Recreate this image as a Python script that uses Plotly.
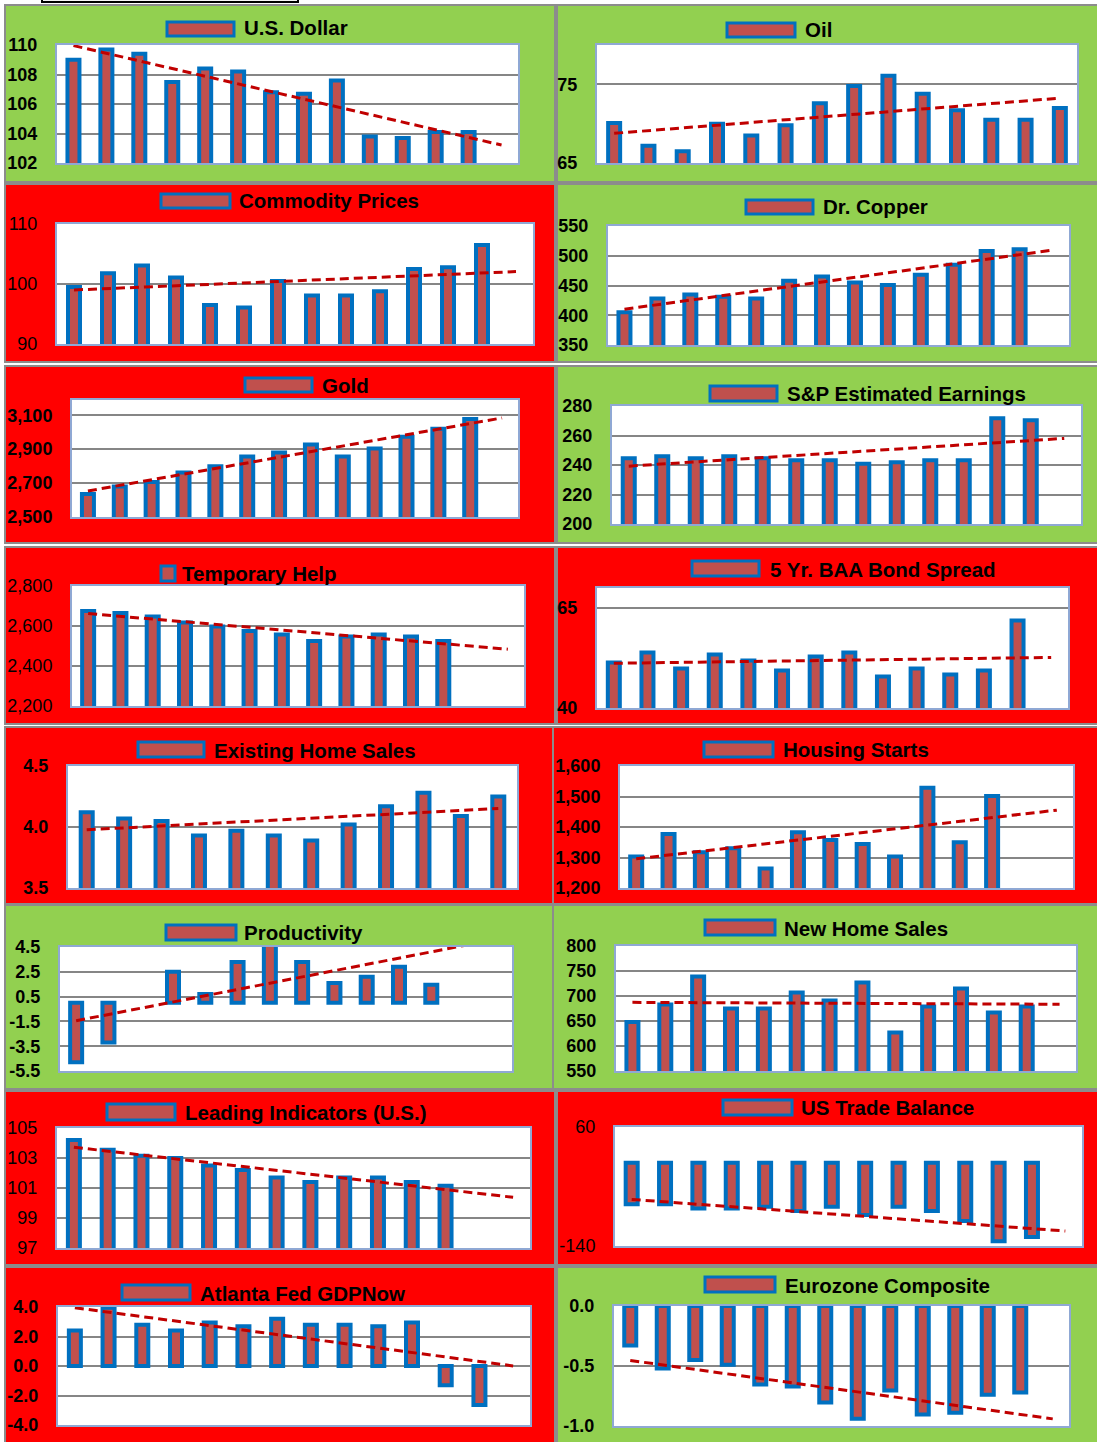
import numpy as np
import plotly.graph_objects as go

W, H = 1097, 1442

# ---------------------------------------------------------------- data ----
usd_vals = [109.0, 109.7, 109.4, 107.5, 108.4, 108.2, 106.8, 106.7, 107.6, 103.8, 103.7, 104.1, 104.1]
oil_vals = [70.1, 67.2, 66.5, 70.0, 68.5, 69.8, 72.6, 74.8, 76.1, 73.8, 71.7, 70.5, 70.5, 72.0]
commodity_vals = [99.5, 101.8, 103.1, 101.1, 96.5, 96.1, 100.5, 98.1, 98.1, 98.8, 102.5, 102.8, 106.5]
copper_vals = [405, 428, 435, 431, 428, 458, 465, 455, 451, 468, 485, 508, 511]
gold_vals = [2636, 2680, 2706, 2762, 2799, 2857, 2880, 2927, 2857, 2904, 2974, 3020, 3078]
sp_earnings_vals = [244.5, 245.9, 244.5, 245.9, 244.5, 243.2, 243.2, 240.9, 241.8, 243.2, 243.2, 271.7, 270.4]
temp_help_vals = [2675, 2665, 2648, 2618, 2598, 2575, 2558, 2525, 2548, 2558, 2548, 2525]
baa_spread_vals = [51.4, 53.9, 49.9, 53.4, 51.9, 49.4, 52.9, 53.9, 47.9, 49.9, 48.4, 49.4, 61.9]
existing_home_vals = [4.12, 4.07, 4.05, 3.93, 3.97, 3.93, 3.89, 4.02, 4.17, 4.28, 4.09, 4.25]
housing_starts_vals = [1303, 1377, 1317, 1330, 1264, 1383, 1357, 1344, 1303, 1529, 1350, 1502]
productivity_vals = [-4.8, -3.2, 0.0, 2.5, 0.7, 3.3, 6.1, 3.3, 1.6, 2.1, 2.9, 1.45]
new_home_vals = [648, 683, 739, 675, 675, 707, 691, 727, 627, 679, 715, 667, 679]
leading_vals = [104.2, 103.55, 103.15, 103.0, 102.5, 102.2, 101.7, 101.4, 101.7, 101.7, 101.4, 101.15]
trade_balance_vals = [-70, -70, -77, -77, -74, -81, -74, -88, -74, -81, -98, -132, -125]
gdpnow_vals = [2.4, 3.95, 2.8, 2.4, 2.95, 2.7, 3.2, 2.8, 2.8, 2.7, 2.95, -1.3, -2.65]
eurozone_vals = [-0.33, -0.52, -0.45, -0.49, -0.655, -0.67, -0.805, -0.94, -0.705, -0.905, -0.89, -0.74, -0.72]

# y-axis ticks and labels
usd_ticks, usd_labels = [102, 104, 106, 108, 110], ["102", "104", "106", "108", "110"]
oil_ticks, oil_labels = [65, 75], ["65", "75"]
commodity_ticks, commodity_labels = [90, 100, 110], ["90", "100", "110"]
copper_ticks, copper_labels = [350, 400, 450, 500, 550], ["350", "400", "450", "500", "550"]
gold_ticks, gold_labels = [2500, 2700, 2900, 3100], ["2,500", "2,700", "2,900", "3,100"]
sp_ticks, sp_labels = [200, 220, 240, 260, 280], ["200", "220", "240", "260", "280"]
temp_ticks, temp_labels = [2200, 2400, 2600, 2800], ["2,200", "2,400", "2,600", "2,800"]
baa_ticks, baa_labels = [40, 65], ["40", "65"]
existing_ticks, existing_labels = [3.5, 4.0, 4.5], ["3.5", "4.0", "4.5"]
housing_ticks, housing_labels = [1200, 1300, 1400, 1500, 1600], ["1,200", "1,300", "1,400", "1,500", "1,600"]
prod_ticks, prod_labels = [-5.5, -3.5, -1.5, 0.5, 2.5, 4.5], ["-5.5", "-3.5", "-1.5", "0.5", "2.5", "4.5"]
newhome_ticks, newhome_labels = [550, 600, 650, 700, 750, 800], ["550", "600", "650", "700", "750", "800"]
leading_ticks, leading_labels = [97, 99, 101, 103, 105], ["97", "99", "101", "103", "105"]
trade_ticks, trade_labels = [-140, 60], ["-140", "60"]
gdp_ticks, gdp_labels = [-4, -2, 0, 2, 4], ["-4.0", "-2.0", "0.0", "2.0", "4.0"]
euro_ticks, euro_labels = [-1.0, -0.5, 0.0], ["-1.0", "-0.5", "0.0"]

# ------------------------------------------------------------- styling ----
GREEN = "#92D050"
RED = "#FF0000"
BAR_FILL = "#C0504D"
BAR_EDGE = "#0070C0"
TREND = "#C00000"
GRID = "#868686"
FRAME = "#8FA8D4"
PANEL_EDGE = "#8C8C8C"
FONT = "Liberation Sans"

# panel layout in pixels: background box, plot box, legend swatch, title text x / y,
# number of category slots, y range, bold tick labels
panels = [
    dict(title="U.S. Dollar", vals=usd_vals, ticks=usd_ticks, labels=usd_labels, bg=GREEN,
         box=(5, 5, 555, 182), plot=(57, 45, 518, 163), sw=(167, 22, 234, 36), tx=242, ty=28,
         n=14, yr=(102, 110), bold=True),
    dict(title="Oil", vals=oil_vals, ticks=oil_ticks, labels=oil_labels, bg=GREEN,
         box=(557, 5, 1099, 182), plot=(597, 45, 1077, 163), sw=(727, 23, 795, 37), tx=803, ty=30,
         n=14, yr=(65, 80), bold=True),
    dict(title="Commodity Prices", vals=commodity_vals, ticks=commodity_ticks, labels=commodity_labels, bg=RED,
         box=(5, 184, 555, 362), plot=(57, 224, 533, 344), sw=(161, 194, 230, 208), tx=237, ty=201,
         n=14, yr=(90, 110), bold=False),
    dict(title="Dr. Copper", vals=copper_vals, ticks=copper_ticks, labels=copper_labels, bg=GREEN,
         box=(557, 184, 1099, 362), plot=(608, 226, 1069, 345), sw=(746, 200, 813, 214), tx=821, ty=207,
         n=14, yr=(350, 550), bold=True),
    dict(title="Gold", vals=gold_vals, ticks=gold_ticks, labels=gold_labels, bg=RED,
         box=(5, 366, 555, 543), plot=(72, 400, 518, 517), sw=(245, 378, 312, 392), tx=320, ty=385,
         n=14, yr=(2500, 3190), bold=True),
    dict(title="S&P Estimated Earnings", vals=sp_earnings_vals, ticks=sp_ticks, labels=sp_labels, bg=GREEN,
         box=(557, 366, 1099, 543), plot=(612, 406, 1081, 524), sw=(710, 386, 777, 401), tx=785, ty=393,
         n=14, yr=(200, 280), bold=True),
    dict(title="Temporary Help", vals=temp_help_vals, ticks=temp_ticks, labels=temp_labels, bg=RED,
         box=(5, 547, 555, 724), plot=(72, 586, 524, 706), sw=(161, 566, 175, 581), tx=180, ty=573,
         n=14, yr=(2200, 2800), bold=False),
    dict(title="5 Yr. BAA Bond Spread", vals=baa_spread_vals, ticks=baa_ticks, labels=baa_labels, bg=RED,
         box=(557, 547, 1099, 724), plot=(597, 588, 1068, 708), sw=(692, 561, 759, 576), tx=768, ty=569,
         n=14, yr=(40, 70), bold=True),
    dict(title="Existing Home Sales", vals=existing_home_vals, ticks=existing_ticks, labels=existing_labels, bg=RED,
         box=(5, 727, 553, 904), plot=(68, 766, 517, 888), sw=(138, 742, 204, 757), tx=212, ty=750,
         n=12, yr=(3.5, 4.5), bold=True),
    dict(title="Housing Starts", vals=housing_starts_vals, ticks=housing_ticks, labels=housing_labels, bg=RED,
         box=(553, 727, 1099, 904), plot=(620, 766, 1073, 888), sw=(704, 742, 773, 757), tx=781, ty=749,
         n=14, yr=(1200, 1600), bold=True),
    dict(title="Productivity", vals=productivity_vals, ticks=prod_ticks, labels=prod_labels, bg=GREEN,
         box=(5, 905, 553, 1089), plot=(60, 947, 512, 1071), sw=(166, 925, 236, 940), tx=242, ty=932,
         n=14, yr=(-5.5, 4.5), bold=True),
    dict(title="New Home Sales", vals=new_home_vals, ticks=newhome_ticks, labels=newhome_labels, bg=GREEN,
         box=(553, 905, 1099, 1089), plot=(616, 946, 1076, 1071), sw=(705, 920, 775, 935), tx=782, ty=928,
         n=14, yr=(550, 800), bold=True),
    dict(title="Leading Indicators (U.S.)", vals=leading_vals, ticks=leading_ticks, labels=leading_labels, bg=RED,
         box=(5, 1091, 555, 1265), plot=(57, 1128, 530, 1248), sw=(107, 1104, 175, 1120), tx=183, ty=1112,
         n=14, yr=(97, 105), bold=False),
    dict(title="US Trade Balance", vals=trade_balance_vals, ticks=trade_ticks, labels=trade_labels, bg=RED,
         box=(557, 1091, 1099, 1265), plot=(615, 1127, 1082, 1246), sw=(723, 1100, 792, 1115), tx=799, ty=1107,
         n=14, yr=(-140, 60), bold=False),
    dict(title="Atlanta Fed GDPNow", vals=gdpnow_vals, ticks=gdp_ticks, labels=gdp_labels, bg=RED,
         box=(5, 1267, 555, 1446), plot=(58, 1307, 530, 1425), sw=(122, 1285, 190, 1300), tx=198, ty=1293,
         n=14, yr=(-4, 4), bold=True),
    dict(title="Eurozone Composite", vals=eurozone_vals, ticks=euro_ticks, labels=euro_labels, bg=GREEN,
         box=(557, 1267, 1099, 1446), plot=(614, 1306, 1069, 1426), sw=(705, 1277, 775, 1292), tx=783, ty=1285,
         n=14, yr=(-1.0, 0.0), bold=True),
]


def fx(px):
    return px / W


def fy(py):
    return 1 - py / H


fig = go.Figure()
shapes = []
annotations = []
axes = {}

# dark strip along the top edge
shapes.append(dict(type="rect", xref="paper", yref="paper", layer="below",
                   x0=fx(42), x1=fx(298), y0=fy(2), y1=fy(-20),
                   fillcolor="#F4F4F4", line=dict(color="#000000", width=2)))

for i, p in enumerate(panels, start=1):
    sfx = "" if i == 1 else str(i)
    xref, yref = "x" + sfx, "y" + sfx
    bx0, by0, bx1, by1 = p["box"]
    px0, py0, px1, py1 = p["plot"]

    # panel background and white plot area
    shapes.append(dict(type="rect", xref="paper", yref="paper", layer="below",
                       x0=fx(bx0), x1=fx(bx1), y0=fy(by1), y1=fy(by0),
                       fillcolor=p["bg"], line=dict(color=PANEL_EDGE, width=2)))
    shapes.append(dict(type="rect", xref="paper", yref="paper", layer="below",
                       x0=fx(px0), x1=fx(px1), y0=fy(py1), y1=fy(py0),
                       fillcolor="#FFFFFF", line=dict(width=0)))

    # legend swatch and series name
    sx0, sy0, sx1, sy1 = p["sw"]
    shapes.append(dict(type="rect", xref="paper", yref="paper", layer="above",
                       x0=fx(sx0), x1=fx(sx1), y0=fy(sy1), y1=fy(sy0),
                       fillcolor=BAR_FILL, line=dict(color=BAR_EDGE, width=3)))
    annotations.append(dict(xref="paper", yref="paper", x=fx(p["tx"]), y=fy(p["ty"]),
                            xanchor="left", yanchor="middle", showarrow=False,
                            text=p["title"],
                            font=dict(family=FONT, size=20.5, color="#000000", weight="bold")))

    vals = np.array(p["vals"], dtype=float)
    xs = np.arange(1, len(vals) + 1)
    n = p["n"]
    slot_px = (px1 - px0) / n
    bar_w = 12.0 / slot_px
    # zero-valued bars are left undrawn, outline included
    edge_w = [0 if v == 0 else 4 for v in vals]

    fig.add_trace(go.Bar(x=xs, y=vals, width=bar_w, xaxis=xref, yaxis=yref,
                         marker=dict(color=BAR_FILL, line=dict(color=BAR_EDGE, width=edge_w)),
                         hoverinfo="skip", showlegend=False))

    # least-squares linear trendline carried across every category slot
    slope, icpt = np.polyfit(xs, vals, 1)
    tx = np.array([1, n], dtype=float)
    fig.add_trace(go.Scatter(x=tx, y=slope * tx + icpt, mode="lines", xaxis=xref, yaxis=yref,
                             line=dict(color=TREND, width=3, dash="9px,5px"),
                             hoverinfo="skip", showlegend=False))

    axes["xaxis" + sfx] = dict(domain=[fx(px0), fx(px1)], range=[0.5, n + 0.5], anchor=yref,
                               showgrid=False, zeroline=False, showticklabels=False, ticks="",
                               showline=True, mirror=True, linecolor=FRAME, linewidth=2,
                               automargin=False, fixedrange=True)
    axes["yaxis" + sfx] = dict(domain=[fy(py1), fy(py0)], range=list(p["yr"]), anchor=xref,
                               tickmode="array", tickvals=p["ticks"], ticktext=p["labels"],
                               showgrid=True, gridcolor=GRID, gridwidth=2, zeroline=False,
                               showline=True, mirror=True, linecolor=FRAME, linewidth=2,
                               ticks="", ticklabelstandoff=14, automargin=False,
                               tickfont=dict(family=FONT, size=18, color="#000000",
                                             weight="bold" if p["bold"] else "normal"),
                               fixedrange=True)

fig.update_layout(
    width=W, height=H, autosize=False,
    margin=dict(l=0, r=0, t=0, b=0, pad=0, autoexpand=False),
    paper_bgcolor="#FFFFFF", plot_bgcolor="rgba(0,0,0,0)",
    showlegend=False, barmode="overlay",
    shapes=shapes, annotations=annotations,
    **axes,
)

fig.write_html("out.html")
